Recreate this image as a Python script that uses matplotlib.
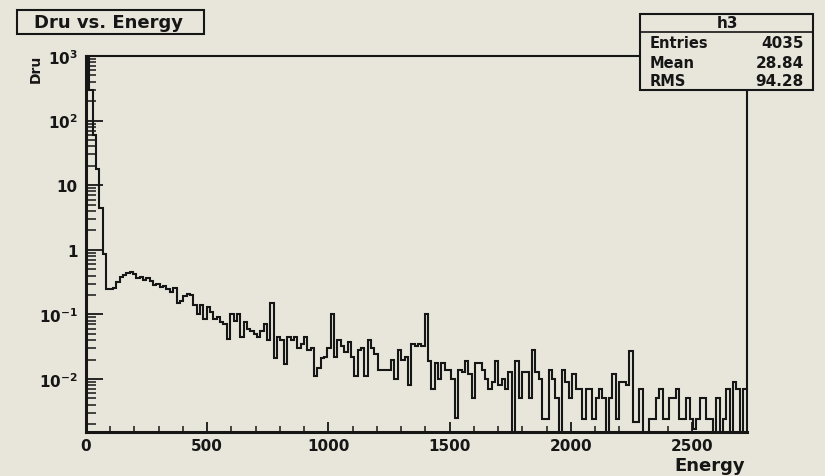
import numpy as np
import matplotlib
matplotlib.use("Agg")
import matplotlib.pyplot as plt
from matplotlib.patches import Rectangle
from matplotlib.lines import Line2D
from matplotlib.ticker import FixedLocator, FixedFormatter, LogLocator, NullFormatter, MultipleLocator

# histogram contents (Dru per bin); 0 = empty bin
dru = [
    950, 300, 60, 18, 4.5, 0.85, 0.25, 0.25, 0.26, 0.32,
    0.38, 0.41, 0.44, 0.46, 0.42, 0.37, 0.38, 0.34, 0.37, 0.33,
    0.29, 0.30, 0.27, 0.28, 0.25, 0.22, 0.26, 0.15, 0.16, 0.19,
    0.21, 0.20, 0.14, 0.10, 0.14, 0.085, 0.13, 0.11, 0.085, 0.09,
    0.075, 0.07, 0.042, 0.10, 0.08, 0.10, 0.045, 0.075, 0.06, 0.055,
    0.05, 0.045, 0.055, 0.07, 0.04, 0.15, 0.021, 0.045, 0.04, 0.017,
    0.045, 0.04, 0.045, 0.03, 0.035, 0.045, 0.028, 0.03, 0.011, 0.015,
    0.021, 0.022, 0.03, 0.10, 0.022, 0.04, 0.033, 0.026, 0.037, 0.022,
    0.011, 0.028, 0.03, 0.011, 0.04, 0.03, 0.024, 0.014, 0.014, 0.014,
    0.014, 0.02, 0.01, 0.028, 0.02, 0.022, 0.008, 0.035, 0.032, 0.035,
    0.032, 0.10, 0.019, 0.007, 0.018, 0.01, 0.018, 0.014, 0.014, 0.01,
    0.0025, 0.014, 0.013, 0.019, 0.012, 0.005, 0.018, 0.018, 0.014, 0.01,
    0.007, 0.009, 0.019, 0.008, 0.01, 0.007, 0.013, 0, 0.019, 0.005,
    0.013, 0.013, 0.005, 0.028, 0.013, 0.01, 0.0024, 0.0024, 0.014, 0.01,
    0.005, 0, 0.014, 0.009, 0.005, 0.012, 0.007, 0.007, 0.0024, 0.007,
    0.007, 0.0024, 0.005, 0.007, 0.005, 0, 0.005, 0.012, 0.0024, 0.009,
    0.009, 0.008, 0.027, 0.0022, 0.0022, 0.007, 0, 0, 0.0024, 0.0024,
    0.005, 0.007, 0.0024, 0.0024, 0.005, 0.005, 0.007, 0.0024, 0.0024, 0.005,
    0.0024, 0.0017, 0.0024, 0.005, 0.005, 0.0024, 0.0024, 0, 0.005, 0,
    0.0024, 0.007, 0, 0.009, 0.007, 0, 0.007,
]
energy_range = (0, 2725)

stats_name = "h3"
stats_labels = ["Entries", "Mean", "RMS"]
stats_values = ["4035", "28.84", "94.28"]

ytick_values = [1e-2, 1e-1, 1, 10, 1e2, 1e3]
ytick_labels = [r"$10^{-2}$", r"$10^{-1}$", "1", "10", r"$10^{2}$", r"$10^{3}$"]

BG = "#e8e6da"
INK = "#161616"
W, H = 825, 477

plt.rcParams["font.family"] = ["DejaVu Sans"]
plt.rcParams["font.weight"] = "bold"
plt.rcParams["mathtext.fontset"] = "custom"
plt.rcParams["mathtext.rm"] = "DejaVu Sans:bold"
plt.rcParams["mathtext.it"] = "DejaVu Sans:bold"
plt.rcParams["mathtext.bf"] = "DejaVu Sans:bold"


def fx(px):
    return px / W


def fy(py):
    return 1 - py / H


fig = plt.figure(figsize=(W / 100, H / 100), dpi=100, facecolor=BG)
ax = fig.add_axes([fx(86), fy(433), fx(746.5) - fx(86), fy(57) - fy(433)])
ax.set_facecolor(BG)

edges = np.linspace(energy_range[0], energy_range[1], len(dru) + 1)
vals = np.array(dru, dtype=float)
vals[vals <= 0] = 1e-6  # empty bins drop to the frame bottom
ax.stairs(vals, edges, baseline=None, color=INK, lw=1.5)

ax.set_yscale("log")
ax.set_xlim(*energy_range)
ax.set_ylim(10 ** -2.82, 10 ** 3.0)

ax.yaxis.set_major_locator(FixedLocator(ytick_values))
ax.yaxis.set_major_formatter(FixedFormatter(ytick_labels))
ax.yaxis.set_minor_locator(LogLocator(base=10, subs=np.arange(2, 10), numticks=20))
ax.yaxis.set_minor_formatter(NullFormatter())
ax.xaxis.set_major_locator(MultipleLocator(500))
ax.xaxis.set_minor_locator(MultipleLocator(100))

ax.tick_params(which="both", direction="in", top=False, right=False, colors=INK)
ax.tick_params(axis="y", which="major", length=12, width=1.3, pad=6, labelsize=11)
ax.tick_params(axis="y", which="minor", length=7, width=1.1)
ax.tick_params(axis="x", which="major", length=7, width=1.3, pad=4, labelsize=11)
ax.tick_params(axis="x", which="minor", length=4, width=1.1)

for side in ("left", "bottom"):
    ax.spines[side].set_linewidth(2.2)
for side in ("top", "right"):
    ax.spines[side].set_linewidth(1.5)
for sp in ax.spines.values():
    sp.set_color(INK)

# axis titles, ROOT style
fig.text(fx(745), fy(466), "Energy", ha="right", va="center", fontsize=13,
         fontweight="bold", color=INK)
fig.text(fx(36), fy(69), "Dru", ha="center", va="center", rotation=90,
         fontsize=10, fontweight="bold", color=INK)

# title box
fig.add_artist(Rectangle((fx(17), fy(35)), fx(204) - fx(17), fy(11) - fy(35),
                         transform=fig.transFigure, facecolor=BG, edgecolor=INK,
                         lw=1.5, zorder=10))
fig.text(fx(109), fy(23.5), "Dru vs. Energy", ha="center", va="center",
         fontsize=13, fontweight="bold", color=INK, zorder=11)

# stats box
fig.add_artist(Rectangle((fx(640), fy(91)), fx(813) - fx(640), fy(15) - fy(91),
                         transform=fig.transFigure, facecolor=BG, edgecolor=INK,
                         lw=1.5, zorder=10))
fig.add_artist(Line2D([fx(640), fx(813)], [fy(33), fy(33)], transform=fig.transFigure,
                      color=INK, lw=1.2, zorder=11))
fig.text(fx(728), fy(24), stats_name, ha="center", va="center", fontsize=11,
         fontweight="bold", color=INK, zorder=11)
for k, (lab, val) in enumerate(zip(stats_labels, stats_values)):
    yy = fy(44 + 19 * k)
    fig.text(fx(650), yy, lab, ha="left", va="center", fontsize=10.5,
             fontweight="bold", color=INK, zorder=11)
    fig.text(fx(804), yy, val, ha="right", va="center", fontsize=11,
             fontweight="bold", color=INK, zorder=11)

fig.savefig("out.png", dpi=100, facecolor=BG)
